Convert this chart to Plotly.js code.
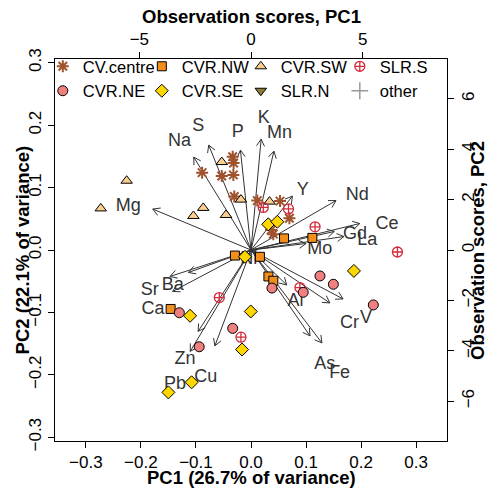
<!DOCTYPE html>
<html>
<head>
<meta charset="utf-8">
<script src="https://cdn.plot.ly/plotly-3.0.1.min.js"></script>
<style>html,body{margin:0;padding:0;background:#fff;}</style>
</head>
<body>
<div id="chart" style="width:489px;height:489px;"></div>
<script>
// Variable loadings on PC1 / PC2 (arrows are drawn to 0.8 x loading, labels at the loading)
const variables = ['Mg','Na','S','P','K','Mn','Y','Nd','Ce','Gd','La','Mo','Ni','Sr','Ba','Ca','Zn','Pb','Cu','Al','Cr','V','As','Fe'];
const loadPC1 = [-0.223,-0.130,-0.096,-0.024,0.023,0.052,0.094,0.193,0.247,0.189,0.211,0.125,-0.004,-0.184,-0.142,-0.178,-0.120,-0.138,-0.082,0.081,0.179,0.209,0.134,0.161];
const loadPC2 = [0.082,0.186,0.210,0.200,0.222,0.198,0.108,0.099,0.053,0.037,0.027,0.013,-0.003,-0.053,-0.045,-0.083,-0.163,-0.203,-0.192,-0.070,-0.106,-0.098,-0.172,-0.186];

// Observation scores, one pair of arrays per sampling group
const cvCentrePC1 = [-0.82,-0.78,-2.19,-1.31,-0.79,-0.75,0.28,1.30,1.72,0.90,1.00];
const cvCentrePC2 = [3.70,3.45,3.07,2.94,2.98,2.12,1.96,1.94,1.26,0.79,0.63];
const cvrNWPC1 = [-0.72,0.40,1.48,2.75,0.78,1.00,-3.60];
const cvrNWPC2 = [-0.22,-0.27,0.46,0.48,-1.05,-1.22,-2.34];
const cvrSWPC1 = [-5.57,-6.73,-1.31,-2.14,-2.58,-1.12,-0.45,0.83];
const cvrSWPC2 = [2.75,1.65,3.49,1.67,1.35,1.39,2.00,1.92];
const slrSPC1 = [0.55,1.68,2.87,6.56,2.19,-1.42,-0.45];
const slrSPC2 = [1.69,1.63,0.92,-0.08,-1.49,-1.89,-3.46];
const cvrNEPC1 = [0.94,2.34,3.09,3.69,5.48,-3.21,-0.82,-2.32];
const cvrNEPC2 = [-1.51,-1.68,-1.03,-1.36,-2.18,-2.49,-3.11,-3.84];
const cvrSEPC1 = [0.77,1.18,-0.27,4.61,-2.73,-0.01,-0.40,-2.66,-3.70];
const cvrSEPC2 = [1.02,1.12,-0.27,-0.83,-2.61,-2.44,-3.95,-5.25,-5.65];
const slrNPC1 = [null];
const slrNPC2 = [null];
const otherPC1 = [null];
const otherPC2 = [null];

const FONT = 'Liberation Sans, Arial, Helvetica, sans-serif';
const W = 489, H = 489;
const M = {l: 55, r: 42, t: 59, b: 48};
const xLoadRange = [-0.356, 0.356];
const yLoadRange = [-0.306, 0.306];
const xScoreRange = [-8.78, 8.78];
const yScoreRange = [-7.58, 7.58];

// pixels per loading unit, used to shape arrowheads and nudge labels
const pxX = (W - M.l - M.r) / (xLoadRange[1] - xLoadRange[0]);
const pxY = (H - M.t - M.b) / (yLoadRange[1] - yLoadRange[0]);
const ARROW_SCALE = 0.8, HEAD_PX = 8, HEAD_ANG = Math.PI / 6, LABEL_DROP_PX = 7.5;

const ax = [], ay = [];
variables.forEach((v, i) => {
  const tx = loadPC1[i] * ARROW_SCALE, ty = loadPC2[i] * ARROW_SCALE;
  ax.push(0, tx, null);
  ay.push(0, ty, null);
  const dx = tx * pxX, dy = ty * pxY;
  const len = Math.hypot(dx, dy);
  if (len < 1e-6) return;
  const bx = -dx / len, by = -dy / len;
  [HEAD_ANG, -HEAD_ANG].forEach((a, k) => {
    const rx = bx * Math.cos(a) - by * Math.sin(a);
    const ry = bx * Math.sin(a) + by * Math.cos(a);
    const wx = tx + HEAD_PX * rx / pxX, wy = ty + HEAD_PX * ry / pxY;
    if (k === 0) { ax.push(wx, tx); ay.push(wy, ty); }
    else { ax.push(wx, null); ay.push(wy, null); }
  });
});

const traces = [];
traces.push({
  type: 'scatter', mode: 'lines', x: ax, y: ay, xaxis: 'x', yaxis: 'y',
  line: {color: '#333333', width: 1}, hoverinfo: 'skip', showlegend: false
});
traces.push({
  type: 'scatter', mode: 'text', x: loadPC1, y: loadPC2.map(v => v - LABEL_DROP_PX / pxY),
  text: variables, textposition: 'middle center', xaxis: 'x', yaxis: 'y',
  textfont: {family: FONT, size: 18, color: '#333333'}, cliponaxis: false,
  hoverinfo: 'skip', showlegend: false
});

function group(name, xs, ys, marker) {
  return {type: 'scatter', mode: 'markers', name: name, x: xs, y: ys,
          xaxis: 'x2', yaxis: 'y2', marker: marker, cliponaxis: false};
}
const edge = {color: '#000000', width: 1};
traces.push(group('CV.centre', cvCentrePC1, cvCentrePC2,
  {symbol: 'asterisk-open', size: 10, color: '#A0522D', line: {color: '#A0522D', width: 2}}));
traces.push(group('CVR.NW', cvrNWPC1, cvrNWPC2,
  {symbol: 'square', size: 9, color: '#F28E1C', line: edge}));
traces.push(group('CVR.SW', cvrSWPC1, cvrSWPC2,
  {symbol: 'triangle-up', size: 10, color: '#FBCF8E', line: edge}));
traces.push(group('SLR.S', slrSPC1, slrSPC2,
  {symbol: 'circle-cross-open', size: 10, color: '#D42A3C', line: {color: '#D42A3C', width: 1.3}}));
traces.push(group('CVR.NE', cvrNEPC1, cvrNEPC2,
  {symbol: 'circle', size: 10, color: '#F08080', line: edge}));
traces.push(group('CVR.SE', cvrSEPC1, cvrSEPC2,
  {symbol: 'diamond', size: 10, color: '#FFD700', line: edge}));
traces.push(group('SLR.N', slrNPC1, slrNPC2,
  {symbol: 'triangle-down', size: 10, color: '#8B7B35', line: edge}));
traces.push(group('other', otherPC1, otherPC2,
  {symbol: 'cross-thin-open', size: 12, color: '#999999', line: {color: '#999999', width: 1.5}}));

const tickFont = {family: FONT, size: 17, color: '#000000'};
const titleFont = {family: FONT, size: 18.5, color: '#000000'};
const axisBase = {
  showgrid: false, zeroline: false, showline: true, linecolor: '#000000', linewidth: 1,
  ticks: 'outside', ticklen: 6, tickwidth: 1, tickcolor: '#000000', tickfont: tickFont,
  automargin: false, fixedrange: true
};

// axis titles placed as paper annotations
function axisTitle(text, x, y, angle) {
  return {text: '<b>' + text + '</b>', xref: 'paper', yref: 'paper', x: x, y: y,
          xanchor: 'center', yanchor: 'middle', showarrow: false, textangle: angle,
          font: titleFont};
}

const layout = {
  width: W, height: H, margin: M,
  paper_bgcolor: '#ffffff', plot_bgcolor: '#ffffff',
  font: {family: FONT, color: '#000000'},
  showlegend: true,
  legend: {
    orientation: 'h', x: 0.474, y: 1.026, xanchor: 'center', yanchor: 'top',
    entrywidthmode: 'pixels', entrywidth: 54,
    bgcolor: 'rgba(0,0,0,0)', borderwidth: 0,
    font: {family: FONT, size: 16.5, color: '#000000'}
  },
  xaxis: Object.assign({}, axisBase, {range: xLoadRange, tick0: 0, dtick: 0.1, tickformat: '.1f'}),
  yaxis: Object.assign({}, axisBase, {range: yLoadRange, tick0: 0, dtick: 0.1, tickformat: '.1f', tickangle: -90}),
  xaxis2: Object.assign({}, axisBase, {
    range: xScoreRange, tick0: 0, dtick: 5, overlaying: 'x', side: 'top', anchor: 'y2'
  }),
  yaxis2: Object.assign({}, axisBase, {
    range: yScoreRange, tick0: 0, dtick: 2, overlaying: 'y', side: 'right', anchor: 'x2', tickangle: -90
  }),
  annotations: [
    axisTitle('PC1 (26.7% of variance)', 0.5, -0.096, 0),
    axisTitle('Observation scores, PC1', 0.5, 1.110, 0),
    axisTitle('PC2 (22.1% of variance)', -0.083, 0.5, -90),
    axisTitle('Observation scores, PC2', 1.0765, 0.5, -90)
  ]
};

Plotly.newPlot('chart', traces, layout, {staticPlot: true, displayModeBar: false});
</script>
</body>
</html>
